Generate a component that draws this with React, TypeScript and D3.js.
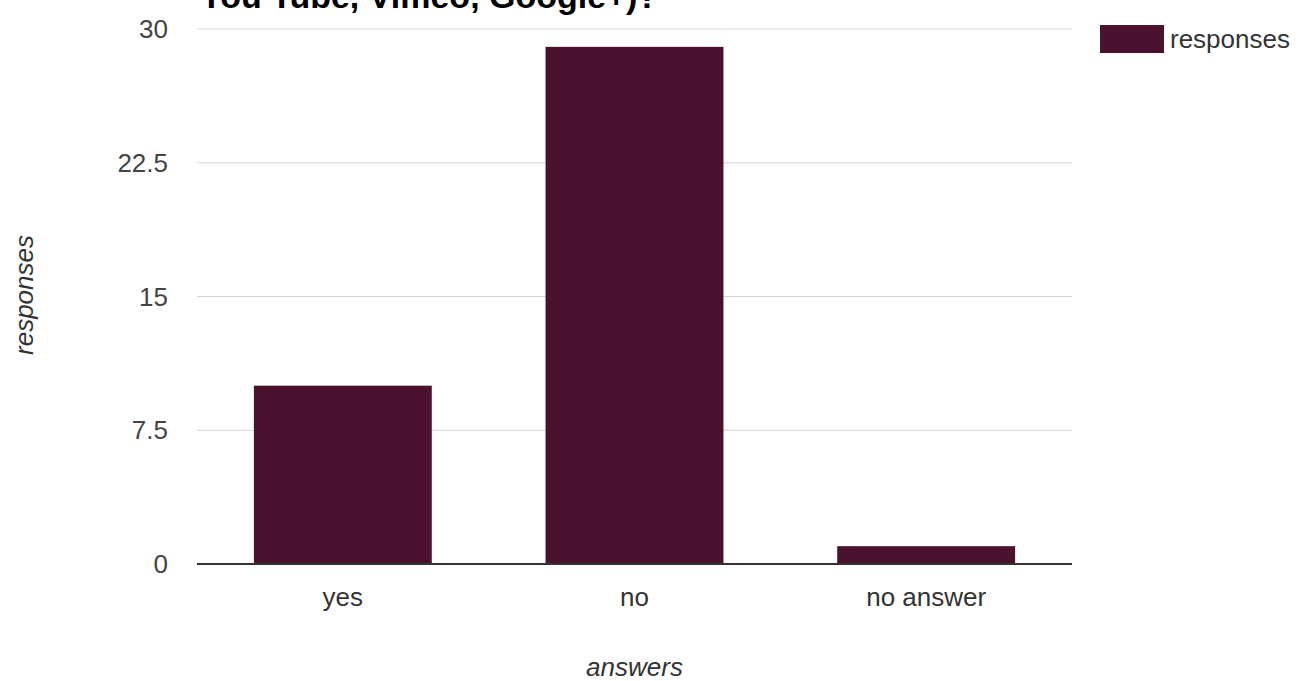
import React from "react";
import * as d3 from "d3";

const categories = ["yes", "no", "no answer"];
const responses = [10, 29, 1];
const yTicks = [0, 7.5, 15, 22.5, 30];
const seriesName = "responses";
const titleText = "You Tube, Vimeo, Google+)?";
const xTitle = "answers";
const yTitle = "responses";

const W = 1303;
const H = 681;
const plot = { left: 197, right: 1072, top: 29, bottom: 564 };
const barColor = "#4b1230";
const font = "'Liberation Sans', Arial, Helvetica, sans-serif";
const labelSize = 26;

export default function App() {
  const x = d3
    .scaleBand<string>()
    .domain(categories)
    .range([plot.left, plot.right])
    .paddingInner(0.39)
    .paddingOuter(0.195);
  const y = d3.scaleLinear().domain([0, 30]).range([plot.bottom, plot.top]);

  return (
    <div style={{ position: "fixed", left: 0, top: 0 }}>
      <svg width={W} height={H} style={{ display: "block", background: "#fff" }}>
        <text x={200} y={8} fontFamily={font} fontWeight="bold" fontSize={34} fill="#000">
          {titleText}
        </text>

        {yTicks.map((t) => (
          <g key={t}>
            {t !== 0 && (
              <line x1={plot.left} x2={plot.right} y1={y(t)} y2={y(t)} stroke="#d4d4d4" strokeWidth={1} />
            )}
            <text
              x={168}
              y={y(t)}
              dy="0.35em"
              textAnchor="end"
              fontFamily={font}
              fontSize={labelSize}
              fill="#444"
            >
              {d3.format("~g")(t)}
            </text>
          </g>
        ))}

        {categories.map((c, i) => (
          <rect
            key={c}
            x={x(c)!}
            y={y(responses[i])}
            width={x.bandwidth()}
            height={y(0) - y(responses[i])}
            fill={barColor}
          />
        ))}

        <line x1={plot.left} x2={plot.right} y1={y(0)} y2={y(0)} stroke="#333" strokeWidth={2} />

        {categories.map((c) => (
          <text
            key={c}
            x={x(c)! + x.bandwidth() / 2}
            y={606}
            textAnchor="middle"
            fontFamily={font}
            fontSize={labelSize}
            fill="#333"
          >
            {c}
          </text>
        ))}

        <text
          x={(plot.left + plot.right) / 2}
          y={676}
          textAnchor="middle"
          fontFamily={font}
          fontStyle="italic"
          fontSize={labelSize}
          fill="#333"
        >
          {xTitle}
        </text>
        <text
          transform={`translate(33, 295) rotate(-90)`}
          textAnchor="middle"
          fontFamily={font}
          fontStyle="italic"
          fontSize={labelSize}
          fill="#333"
        >
          {yTitle}
        </text>

        <rect x={1100} y={25} width={64} height={28} fill={barColor} />
        <text x={1170} y={48} fontFamily={font} fontSize={labelSize} fill="#333">
          {seriesName}
        </text>
      </svg>
    </div>
  );
}
